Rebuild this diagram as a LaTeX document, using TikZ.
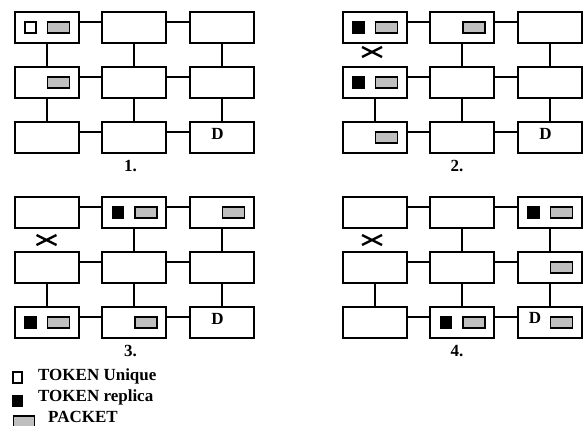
\documentclass[tikz,border=0pt]{standalone}
\usepackage{fontspec}
\setmainfont{Liberation Serif}
\usepackage{xcolor}

\begin{document}
\begin{tikzpicture}[x=1pt,y=-1pt,line width=2.4pt,
    router/.style={draw,minimum width=63.5pt,minimum height=30.5pt,inner sep=0pt},
    tokenu/.style={draw,fill=white,line width=1.7pt,minimum size=11pt,inner sep=0pt},
    tokenr/.style={draw,fill=black,line width=1.7pt,minimum size=11pt,inner sep=0pt},
    packet/.style={draw,fill=gray!50,line width=1.7pt,minimum width=22pt,minimum height=10.5pt,inner sep=0pt},
    lbl/.style={font=\fontsize{17}{20}\selectfont\bfseries,inner sep=0pt}]
    \useasboundingbox (0,0) rectangle (588,425);

    % grid 1
    \node [router] (a11) at (47,27.5) {};
    \node [router] (a12) at (134,27.5) {};
    \node [router] (a13) at (222,27.5) {};
    \node [router] (a21) at (47,82.5) {};
    \node [router] (a22) at (134,82.5) {};
    \node [router] (a23) at (222,82.5) {};
    \node [router] (a31) at (47,137.5) {};
    \node [router] (a32) at (134,137.5) {};
    \node [router] (a33) at (222,137.5) {};
    \draw ([yshift=5.5pt]a11.east)--([yshift=5.5pt]a12.west) ([yshift=5.5pt]a12.east)--([yshift=5.5pt]a13.west);
    \draw ([yshift=5.5pt]a21.east)--([yshift=5.5pt]a22.west) ([yshift=5.5pt]a22.east)--([yshift=5.5pt]a23.west);
    \draw ([yshift=5.5pt]a31.east)--([yshift=5.5pt]a32.west) ([yshift=5.5pt]a32.east)--([yshift=5.5pt]a33.west);
    \draw (a11)--(a21) (a12)--(a22) (a13)--(a23);
    \draw (a21)--(a31) (a22)--(a32) (a23)--(a33);
    \node [tokenu] (tu1) at (30.5,27.5) {};
    \node [packet] (p1) at (58.5,27.5) {};
    \node [packet] (p2) at (58.5,82.5) {};
    \node [lbl] (dst1) at (217.5,134) {D};
    \node [lbl] (n1) at (130.5,166) {1.};

    % grid 2
    \node [router] (b11) at (375,27.5) {};
    \node [router] (b12) at (462,27.5) {};
    \node [router] (b13) at (550,27.5) {};
    \node [router] (b21) at (375,82.5) {};
    \node [router] (b22) at (462,82.5) {};
    \node [router] (b23) at (550,82.5) {};
    \node [router] (b31) at (375,137.5) {};
    \node [router] (b32) at (462,137.5) {};
    \node [router] (b33) at (550,137.5) {};
    \draw ([yshift=5.5pt]b11.east)--([yshift=5.5pt]b12.west) ([yshift=5.5pt]b12.east)--([yshift=5.5pt]b13.west);
    \draw ([yshift=5.5pt]b21.east)--([yshift=5.5pt]b22.west) ([yshift=5.5pt]b22.east)--([yshift=5.5pt]b23.west);
    \draw ([yshift=5.5pt]b31.east)--([yshift=5.5pt]b32.west) ([yshift=5.5pt]b32.east)--([yshift=5.5pt]b33.west);
    \draw (b12)--(b22) (b13)--(b23);
    \draw (b21)--(b31) (b22)--(b32) (b23)--(b33);
    \coordinate (cut2) at (372,52);
    \draw ([shift={(-10pt,-5pt)}]cut2)--([shift={(10pt,5pt)}]cut2) ([shift={(-10pt,5pt)}]cut2)--([shift={(10pt,-5pt)}]cut2);
    \node [tokenr] (tr2a) at (358.5,27.5) {};
    \node [packet] (p3) at (386.5,27.5) {};
    \node [packet] (p4) at (474,27.5) {};
    \node [tokenr] (tr2b) at (358.5,82.5) {};
    \node [packet] (p5) at (386.5,82.5) {};
    \node [packet] (p6) at (386.5,137.5) {};
    \node [lbl] (dst2) at (545.5,134) {D};
    \node [lbl] (n2) at (457,166) {2.};

    % grid 3
    \node [router] (c11) at (47,212.5) {};
    \node [router] (c12) at (134,212.5) {};
    \node [router] (c13) at (222,212.5) {};
    \node [router] (c21) at (47,267.5) {};
    \node [router] (c22) at (134,267.5) {};
    \node [router] (c23) at (222,267.5) {};
    \node [router] (c31) at (47,322.5) {};
    \node [router] (c32) at (134,322.5) {};
    \node [router] (c33) at (222,322.5) {};
    \draw ([yshift=5.5pt]c11.east)--([yshift=5.5pt]c12.west) ([yshift=5.5pt]c12.east)--([yshift=5.5pt]c13.west);
    \draw ([yshift=5.5pt]c21.east)--([yshift=5.5pt]c22.west) ([yshift=5.5pt]c22.east)--([yshift=5.5pt]c23.west);
    \draw ([yshift=5.5pt]c31.east)--([yshift=5.5pt]c32.west) ([yshift=5.5pt]c32.east)--([yshift=5.5pt]c33.west);
    \draw (c12)--(c22) (c13)--(c23);
    \draw (c21)--(c31) (c22)--(c32) (c23)--(c33);
    \coordinate (cut3) at (46.5,240);
    \draw ([shift={(-10pt,-5pt)}]cut3)--([shift={(10pt,5pt)}]cut3) ([shift={(-10pt,5pt)}]cut3)--([shift={(10pt,-5pt)}]cut3);
    \node [tokenr] (tr3a) at (118,212.5) {};
    \node [packet] (p7) at (146,212.5) {};
    \node [packet] (p8) at (233.5,212.5) {};
    \node [tokenr] (tr3b) at (30.5,322.5) {};
    \node [packet] (p9) at (58.5,322.5) {};
    \node [packet] (p10) at (146,322.5) {};
    \node [lbl] (dst3) at (217.5,319) {D};
    \node [lbl] (n3) at (130.5,351) {3.};

    % grid 4
    \node [router] (d11) at (375,212.5) {};
    \node [router] (d12) at (462,212.5) {};
    \node [router] (d13) at (550,212.5) {};
    \node [router] (d21) at (375,267.5) {};
    \node [router] (d22) at (462,267.5) {};
    \node [router] (d23) at (550,267.5) {};
    \node [router] (d31) at (375,322.5) {};
    \node [router] (d32) at (462,322.5) {};
    \node [router] (d33) at (550,322.5) {};
    \draw ([yshift=5.5pt]d11.east)--([yshift=5.5pt]d12.west) ([yshift=5.5pt]d12.east)--([yshift=5.5pt]d13.west);
    \draw ([yshift=5.5pt]d21.east)--([yshift=5.5pt]d22.west) ([yshift=5.5pt]d22.east)--([yshift=5.5pt]d23.west);
    \draw ([yshift=5.5pt]d31.east)--([yshift=5.5pt]d32.west) ([yshift=5.5pt]d32.east)--([yshift=5.5pt]d33.west);
    \draw (d12)--(d22) (d13)--(d23);
    \draw (d21)--(d31) (d22)--(d32) (d23)--(d33);
    \coordinate (cut4) at (372,240);
    \draw ([shift={(-10pt,-5pt)}]cut4)--([shift={(10pt,5pt)}]cut4) ([shift={(-10pt,5pt)}]cut4)--([shift={(10pt,-5pt)}]cut4);
    \node [tokenr] (tr4a) at (533.5,212.5) {};
    \node [packet] (p11) at (561.5,212.5) {};
    \node [packet] (p12) at (561.5,267.5) {};
    \node [tokenr] (tr4b) at (446,322.5) {};
    \node [packet] (p13) at (474,322.5) {};
    \node [lbl] (dst4) at (535,318) {D};
    \node [packet] (p14) at (561.5,322.5) {};
    \node [lbl] (n4) at (457,351) {4.};

    % legend
    \node [tokenu,minimum width=8.5pt,minimum height=10.5pt] (ku) at (17.5,377.5) {};
    \node [lbl,anchor=base west] (tku) at (37,380) {TOKEN Unique};
    \node [tokenr,minimum width=8.5pt,minimum height=10.5pt] (kr) at (17.5,401) {};
    \node [lbl,anchor=base west] (tkr) at (37,401) {TOKEN replica};
    \node [packet,minimum width=21pt] (kp) at (24,421.5) {};
    \node [lbl,anchor=base west] (tkp) at (47,422) {PACKET};

\end{tikzpicture}
\end{document}
